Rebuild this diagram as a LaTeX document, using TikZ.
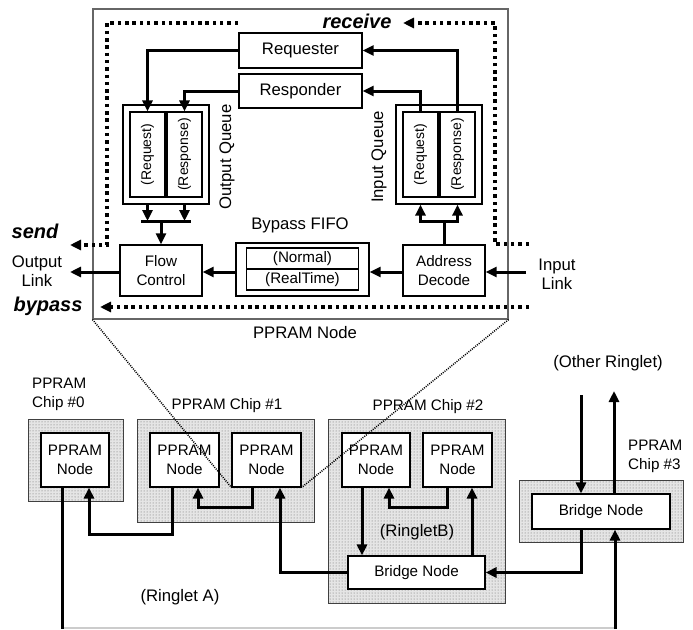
\documentclass[tikz,border=0pt]{standalone}
\usepackage{fontspec}
\setmainfont{Liberation Sans}
\usetikzlibrary{arrows.meta,patterns,calc}
\newcommand\fzbig{\fontsize{16.7}{19}\selectfont}
\newcommand\fzmid{\fontsize{15.2}{19}\selectfont}
\newcommand\fzsml{\fontsize{14}{16}\selectfont}
\newcommand\fzbi{\fontsize{20}{22}\selectfont\bfseries\itshape}
\begin{document}
\begin{tikzpicture}[x=1pt,y=-1pt,
  box/.style={draw, line width=1.4pt, inner sep=0pt, align=center, font=\fzmid},
  bigbox/.style={box, font=\fzbig},
  qbox/.style={draw, line width=1.2pt, inner sep=0pt},
  qin/.style={draw, line width=1.1pt, inner sep=0pt, minimum width=35pt, minimum height=85pt, font=\fzsml},
  chip/.style={draw=black!75, line width=0.9pt, preaction={fill=black!10}, pattern=dots, pattern color=black!60, inner sep=0pt},
  wbox/.style={draw, fill=white, line width=1.1pt, inner sep=0pt, align=center, font=\fzmid},
  lbl/.style={inner sep=0pt, align=center, font=\fzbig},
  clbl/.style={inner sep=0pt, align=left, font=\fzmid},
  tip/.style={-{Triangle[length=11pt,width=10pt]}},
  arr/.style={line width=3pt, tip},
  thk/.style={line width=3pt},
  dline/.style={line width=3.5pt, dash pattern=on 3.5pt off 3.8pt},
  fine/.style={line width=1.5pt, dash pattern=on 1pt off 1.2pt, draw=black}]
\useasboundingbox (0,0) rectangle (693,629);

% ---------- PPRAM node detail ----------
\node[draw=black!60, line width=1.1pt, minimum width=415pt, minimum height=310pt, inner sep=0pt] (big) at (300.5,164) {};

\node[bigbox, minimum width=123pt, minimum height=35pt] (reqr) at (300.5,50.5) {Requester};
\node[bigbox, minimum width=123pt, minimum height=34pt] (resp) at (300.5,91) {Responder};

\node[qbox, minimum width=86pt, minimum height=99pt] (oq) at (166,154.5) {};
\node[qin] (oqreq) at (147.5,154.5) {\rotatebox{90}{(Request)}};
\node[qin] (oqresp) at (184.5,154.5) {\rotatebox{90}{(Response)}};
\node[lbl, rotate=90] (oqlbl) at (227,157) {Output Queue};

\node[qbox, minimum width=86pt, minimum height=99pt] (iq) at (439,154.5) {};
\node[qin] (iqreq) at (420.5,154.5) {\rotatebox{90}{(Request)}};
\node[qin] (iqresp) at (457.5,154.5) {\rotatebox{90}{(Response)}};
\node[lbl, rotate=90] (iqlbl) at (379,157) {Input Queue};

\node[box, minimum width=82pt, minimum height=51pt] (flow) at (161,270.5) {Flow\\Control};
\node[box, minimum width=133pt, minimum height=53pt] (fifo) at (302.5,269.5) {};
\node[draw, line width=1.1pt, minimum width=112pt, minimum height=21pt, inner sep=0pt, font=\fzmid] (norm) at (302.5,258.5) {(Normal)};
\node[draw, line width=1.1pt, minimum width=112pt, minimum height=21pt, inner sep=0pt, font=\fzmid] (rt) at (302.5,279.5) {(RealTime)};
\node[lbl] (fifolbl) at (300,225) {Bypass FIFO};
\node[box, minimum width=82pt, minimum height=51pt] (addr) at (444,270.5) {Address\\Decode};

\node[lbl] (outl) at (37,271) {Output\\Link};
\node[lbl] (inl) at (557,274) {Input\\Link};
\node[lbl] (nodelbl) at (305,333) {PPRAM Node};
\node[inner sep=0pt, font=\fzbi] (recv) at (357,21) {receive};
\node[inner sep=0pt, font=\fzbi] (send) at (35,231) {send};
\node[inner sep=0pt, font=\fzbi] (byp) at (48,306) {bypass};

% internal connectors
\draw[arr] (reqr.west) -| (oqreq.north);
\draw[arr] (resp.west) -| (oqresp.north);
\draw[arr] (iqreq.north) |- (resp.east);
\draw[arr] (iqresp.north) |- (reqr.east);

\coordinate (bar1) at (141,221);
\coordinate (bar2) at (191,221);
\draw[arr] (oqreq |- oq.south) -- (oqreq |- bar1);
\draw[arr] (oqresp |- oq.south) -- (oqresp |- bar1);
\draw[thk] (bar1) -- (bar2);
\draw[arr] (flow.north |- bar1) -- (flow.north);

\coordinate (brn) at (444,221);
\draw[thk] (addr.north) -- (addr.north |- brn);
\draw[arr] (addr.north |- brn) -| (iqreq |- iq.south);
\draw[arr] (addr.north |- brn) -| (iqresp |- iq.south);

\coordinate (outend) at (70,272);
\coordinate (inend) at (526,272);
\draw[arr] (flow.west |- outend) -- (outend);
\draw[arr] (fifo.west |- outend) -- (flow.east |- outend);
\draw[arr] (addr.west |- outend) -- (fifo.east |- outend);
\draw[arr] (inend) -- (addr.east |- inend);

% dotted paths
\coordinate (rs) at (529,244);
\coordinate (rc) at (495,23);
\coordinate (rt1) at (403,23);
\coordinate (ls) at (238,23);
\coordinate (lc) at (107,245);
\coordinate (le) at (70,245);
\coordinate (bs) at (529,307);
\coordinate (be) at (100,307);
\draw[dline, tip] (rs) -| (rc) -- (rt1);
\draw[dline, tip] (ls) -| (lc) -- (le);
\draw[dline, tip] (bs) -- (be);

% ---------- Ringlets ----------
\node[chip, minimum width=95pt, minimum height=82pt] (c0) at (75.5,460) {};
\node[chip, minimum width=177pt, minimum height=103pt] (c1) at (225.5,470.5) {};
\node[chip, minimum width=177pt, minimum height=184pt] (c2) at (416.5,511) {};
\node[chip, minimum width=164pt, minimum height=62pt] (c3) at (601,511) {};

\node[wbox, minimum width=68pt, minimum height=54pt] (n0) at (75,460) {PPRAM\\Node};
\node[wbox, minimum width=69pt, minimum height=54pt] (n1a) at (184.5,460) {PPRAM\\Node};
\node[wbox, minimum width=69pt, minimum height=54pt] (n1b) at (266.5,460) {PPRAM\\Node};
\node[wbox, minimum width=68pt, minimum height=54pt] (n2a) at (376,460) {PPRAM\\Node};
\node[wbox, minimum width=69pt, minimum height=54pt] (n2b) at (457.5,460) {PPRAM\\Node};
\node[wbox, minimum width=137pt, minimum height=33pt] (br2) at (416.5,572.5) {Bridge Node};
\node[wbox, minimum width=138pt, minimum height=35pt] (br3) at (601,511.5) {Bridge Node};

\node[clbl, anchor=west] (l0) at (32,394) {PPRAM\\Chip \#0};
\node[clbl] (l1) at (227,406) {PPRAM Chip \#1};
\node[clbl] (l2) at (428,407) {PPRAM Chip \#2};
\node[clbl, anchor=west] (l3) at (628,456.5) {PPRAM\\Chip \#3};
\node[lbl] (other) at (608,363) {(Other Ringlet)};
\node[lbl] (rb) at (417,532) {(RingletB)};
\node[lbl] (ra) at (180,597) {(Ringlet A)};

% ringlet connectors
\coordinate (p0) at (62,629);
\coordinate (p3) at (615,629);
\draw[draw=black!20, line width=1.5pt] (62,628) -- (615,628);
\draw[thk] (p0 |- n0.south) -- (p0);
\draw[arr] ($(n1a.south)+(-12.5,0)$) -- ++(0,47) -| ($(n0.south)+(14,0)$);
\draw[arr] ($(n1b.south)+(-14.5,0)$) -- ++(0,20) -| ($(n1a.south)+(13.5,0)$);
\draw[arr] (br2.west) -| ($(n1b.south)+(13.5,0)$);
\coordinate (a2) at ($(n2a.south)+(-14,0)$);
\draw[arr] (a2) -- (a2 |- br2.north);
\coordinate (b2) at ($(n2b.south)+(14.5,0)$);
\draw[arr] (b2 |- br2.north) -- (b2);
\draw[arr] ($(n2b.south)+(-10.5,0)$) -- ++(0,20) -| ($(n2a.south)+(13,0)$);
\draw[arr] ($(br3.south)+(-20,0)$) |- (br2.east);
\coordinate (u3) at ($(br3.south)+(14,0)$);
\draw[arr] (p3) -- (p3 |- u3);
\coordinate (d3) at ($(br3.north)+(-20,0)$);
\coordinate (d3s) at (581,395);
\draw[arr] (d3s) -- (d3);
\coordinate (o3) at ($(br3.north)+(13,0)$);
\coordinate (o3e) at (614,391);
\draw[arr] (o3) -- (o3 |- o3e);

% zoom lines
\draw[fine] (big.south west) -- (n1b.south west);
\draw[fine] (big.south east) -- (n1b.south east);
\end{tikzpicture}
\end{document}
